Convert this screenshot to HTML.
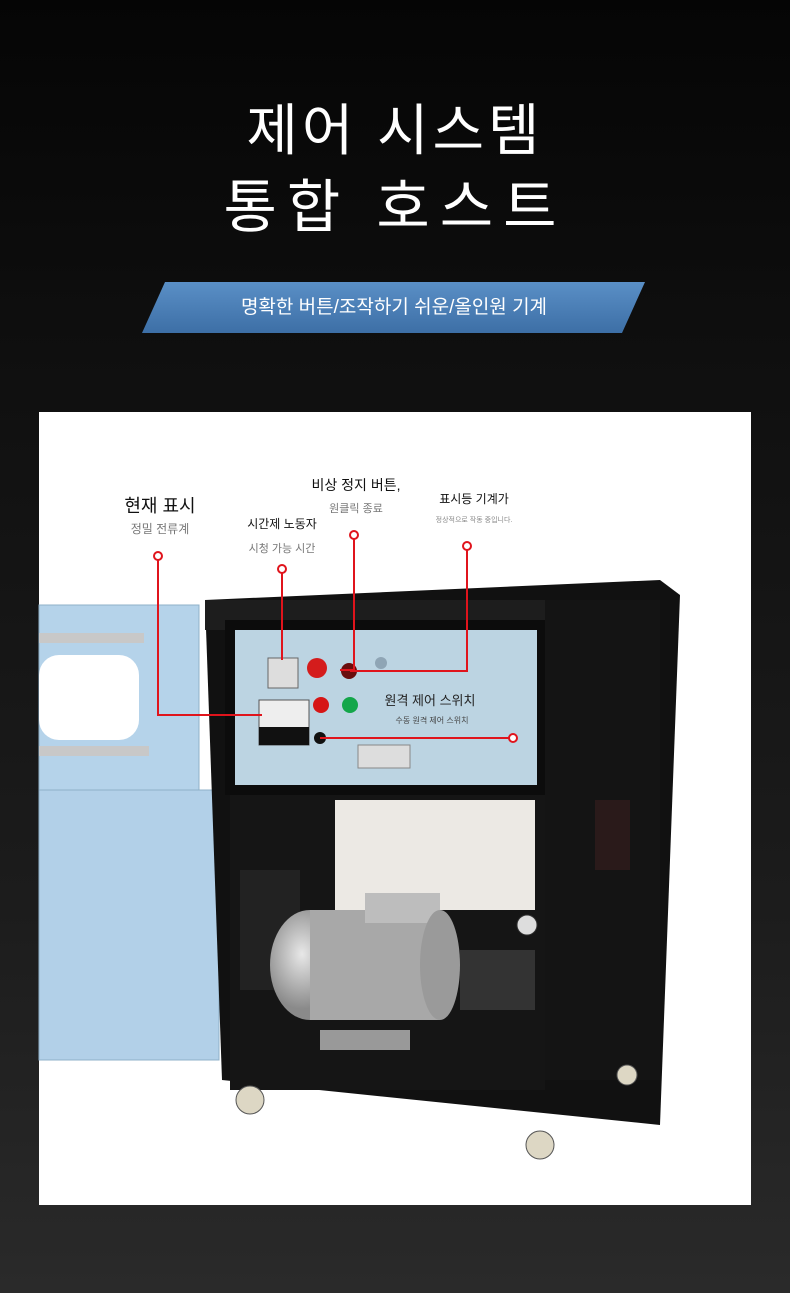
<!DOCTYPE html>
<html><head><meta charset="utf-8"><style>
html,body{margin:0;padding:0}
body{width:790px;height:1293px;overflow:hidden;background:linear-gradient(180deg,#050505 0%,#101010 30%,#1c1c1c 70%,#2a2a2a 100%);font-family:"Liberation Sans","Noto Sans CJK KR",sans-serif;position:relative}
.t{position:absolute;left:0;width:790px;text-align:center;color:#fff;font-size:56px;letter-spacing:4px}
</style></head><body>
<div class="t" style="top:86px">제어 시스템</div>
<div class="t" style="top:160px;letter-spacing:10px;font-size:58px">통합 호스트</div>
<svg width="790" height="1293" style="position:absolute;left:0;top:0" font-family="Liberation Sans, Noto Sans CJK KR, sans-serif">
<defs>
<linearGradient id="bn" x1="0" x2="0" y1="0" y2="1"><stop offset="0" stop-color="#5a8fc6"/><stop offset="1" stop-color="#3d6fa6"/></linearGradient>
<radialGradient id="mot" cx="0.4" cy="0.4"><stop offset="0" stop-color="#e8e8e8"/><stop offset="1" stop-color="#8a8a8a"/></radialGradient>
</defs>
<polygon points="165,282 645,282 622,333 142,333" fill="url(#bn)"/>
<text x="394" y="313" fill="#fff" font-size="19" text-anchor="middle">명확한 버튼/조작하기 쉬운/올인원 기계</text>
<rect x="39" y="412" width="712" height="793" fill="#fff"/>
<!-- door -->
<rect x="39" y="605" width="160" height="185" fill="#b5d3ea" stroke="#8fb0c8"/>
<rect x="39" y="790" width="180" height="270" fill="#b2d0e8" stroke="#8fb0c8"/>
<rect x="39" y="655" width="100" height="85" rx="20" fill="#fff"/>
<rect x="39" y="633" width="105" height="10" fill="#c8c8c8"/>
<rect x="39" y="746" width="110" height="10" fill="#c8c8c8"/>
<!-- cabinet -->
<polygon points="205,600 660,580 680,595 660,1125 222,1080" fill="#111"/>
<rect x="205" y="600" width="345" height="30" fill="#1d1d1d"/>
<rect x="545" y="600" width="115" height="480" fill="#141414"/>
<rect x="225" y="620" width="320" height="175" fill="#0c0c0c"/>
<rect x="235" y="630" width="302" height="155" fill="#bcd4e2"/>
<rect x="268" y="658" width="30" height="30" fill="#ddd" stroke="#666"/>
<circle cx="317" cy="668" r="10" fill="#d41c1c"/>
<circle cx="349" cy="671" r="8" fill="#6a0d0d"/>
<circle cx="381" cy="663" r="6" fill="#8fa5b5"/>
<rect x="259" y="700" width="50" height="45" fill="#eee" stroke="#555"/>
<rect x="259" y="727" width="50" height="18" fill="#111"/>
<circle cx="321" cy="705" r="8" fill="#d61616"/>
<circle cx="350" cy="705" r="8" fill="#13a64a"/>
<circle cx="320" cy="738" r="6" fill="#111"/>
<rect x="358" y="745" width="52" height="23" fill="#ddd" stroke="#888"/>
<text x="430" y="705" font-size="13" fill="#222" text-anchor="middle">원격 제어 스위치</text>
<text x="432" y="723" font-size="8" fill="#444" text-anchor="middle">수동 원격 제어 스위치</text>
<rect x="230" y="795" width="315" height="295" fill="#151515"/>
<rect x="335" y="800" width="200" height="110" fill="#ece9e4"/>
<rect x="240" y="870" width="60" height="120" fill="#222"/>
<ellipse cx="310" cy="965" rx="40" ry="55" fill="url(#mot)"/>
<rect x="310" y="910" width="130" height="110" fill="#a8a8a8"/>
<rect x="365" y="893" width="75" height="30" fill="#bdbdbd"/>
<ellipse cx="440" cy="965" rx="20" ry="55" fill="#9a9a9a"/>
<rect x="460" y="950" width="75" height="60" fill="#333"/>
<circle cx="527" cy="925" r="10" fill="#ddd" stroke="#333"/>
<rect x="320" y="1030" width="90" height="20" fill="#999"/>
<rect x="595" y="800" width="35" height="70" fill="#2a1a1a"/>
<circle cx="250" cy="1100" r="14" fill="#ddd7c4" stroke="#555"/>
<circle cx="540" cy="1145" r="14" fill="#ddd7c4" stroke="#555"/>
<circle cx="627" cy="1075" r="10" fill="#ddd7c4" stroke="#555"/>
<g stroke="#e0141c" stroke-width="2" fill="none">
<polyline points="158,558 158,715 262,715"/>
<polyline points="282,570 282,660"/>
<polyline points="354,535 354,670 340,670"/>
<polyline points="467,546 467,671 350,671"/>
<polyline points="320,738 512,738"/>
</g>
<g stroke="#e0141c" stroke-width="2" fill="#fff">
<circle cx="158" cy="556" r="4"/><circle cx="282" cy="569" r="4"/><circle cx="354" cy="535" r="4"/><circle cx="467" cy="546" r="4"/><circle cx="513" cy="738" r="4"/>
</g>
<text x="160" y="512" font-size="18" fill="#111" text-anchor="middle">현재 표시</text>
<text x="160" y="533" font-size="12" fill="#777" text-anchor="middle">정밀 전류계</text>
<text x="282" y="528" font-size="12" fill="#111" text-anchor="middle">시간제 노동자</text>
<text x="282" y="552" font-size="11" fill="#777" text-anchor="middle">시청 가능 시간</text>
<text x="356" y="490" font-size="14" fill="#111" text-anchor="middle">비상 정지 버튼,</text>
<text x="356" y="512" font-size="11" fill="#777" text-anchor="middle">원클릭 종료</text>
<text x="474" y="503" font-size="12" fill="#111" text-anchor="middle">표시등 기계가</text>
<text x="474" y="522" font-size="7" fill="#888" text-anchor="middle">정상적으로 작동 중입니다.</text>
</svg>
</body></html>
